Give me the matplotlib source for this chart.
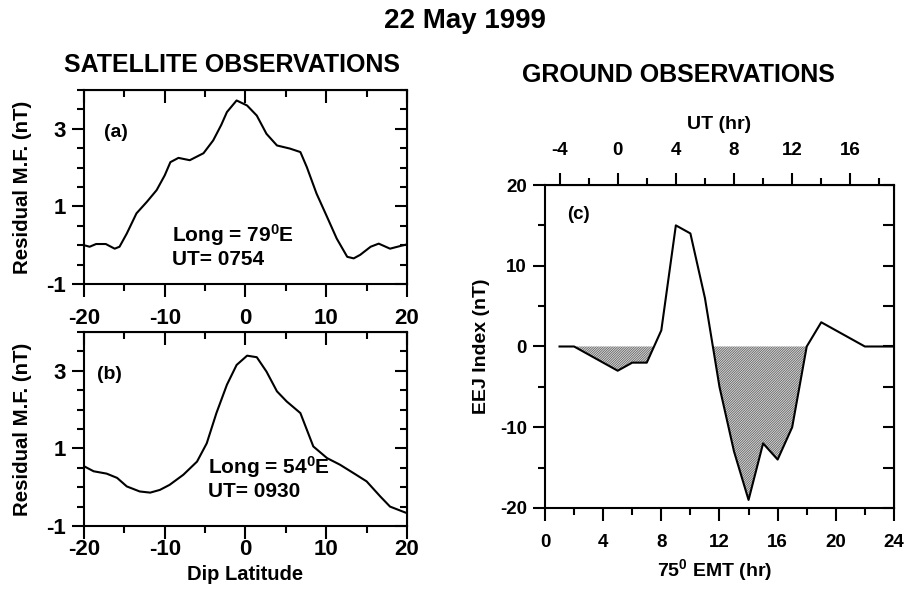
import numpy as np
import matplotlib
matplotlib.use('Agg')
import matplotlib.pyplot as plt
from matplotlib.ticker import MultipleLocator, FixedLocator

plt.rcParams['font.family'] = ['Liberation Sans', 'DejaVu Sans']
plt.rcParams['font.weight'] = 'bold'
plt.rcParams['axes.labelweight'] = 'bold'
plt.rcParams['axes.unicode_minus'] = False
plt.rcParams['mathtext.fontset'] = 'custom'
plt.rcParams['mathtext.rm'] = 'Liberation Sans:bold'
plt.rcParams['mathtext.bf'] = 'Liberation Sans:bold'
plt.rcParams['mathtext.default'] = 'bf'
plt.rcParams['hatch.linewidth'] = 0.5

# (a) satellite pass at 79E, residual field vs dip latitude
lat_a = [-20, -19.3, -18.5, -17.3, -16.2, -15.6, -14.7, -13.5, -12.2, -11.0, -10.0,
         -9.3, -8.3, -6.9, -5.2, -4.0, -3.0, -2.3, -1.1, 0.2, 1.4, 2.6, 3.9,
         5.5, 6.8, 7.6, 8.8, 10.1, 11.3, 12.6, 13.4, 14.2, 15.5, 16.5, 17.9, 19.2, 20]
res_a = [0.0, -0.04, 0.03, 0.03, -0.09, -0.04, 0.3, 0.82, 1.12, 1.42, 1.8,
         2.14, 2.25, 2.19, 2.37, 2.7, 3.1, 3.43, 3.73, 3.6, 3.34, 2.87, 2.57,
         2.49, 2.4, 2.01, 1.33, 0.73, 0.17, -0.3, -0.34, -0.25, -0.04, 0.04, -0.09, -0.02, 0.02]

# (b) satellite pass at 54E
lat_b = [-20, -18.8, -17.2, -15.9, -14.7, -13.1, -11.8, -10.6, -9.4, -7.7, -6.0,
         -4.8, -3.6, -2.3, -1.1, 0.2, 1.4, 2.6, 3.9, 5.1, 6.8, 8.4, 10.1,
         11.7, 13.4, 15.0, 16.7, 17.9, 20]
res_b = [0.54, 0.41, 0.35, 0.24, 0.02, -0.11, -0.14, -0.07, 0.06, 0.32, 0.66,
         1.13, 1.91, 2.64, 3.15, 3.39, 3.35, 2.98, 2.47, 2.21, 1.91, 1.05, 0.75,
         0.58, 0.36, 0.15, -0.24, -0.5, -0.67]

# (c) ground EEJ index vs local time (75E mean time)
emt = [1, 2, 5, 6, 7, 8, 9, 10, 11, 12, 13, 14, 15, 16, 17, 18, 19, 22, 24]
eej = [0, 0, -3, -2, -2, 2, 15, 14, 6, -5, -13, -19, -12, -14, -10, 0, 3, 0, 0]

ut_ticks = [-4, 0, 4, 8, 12, 16]

fig = plt.figure(figsize=(9.05, 5.92), dpi=100)

fig.text(0.514, 0.952, '22 May 1999', ha='center', va='baseline', fontsize=20)
fig.text(0.256, 0.878, 'SATELLITE OBSERVATIONS', ha='center', va='baseline', fontsize=18)
fig.text(0.750, 0.862, 'GROUND OBSERVATIONS', ha='center', va='baseline', fontsize=18)

LW = 1.5
MAJ, MIN = 9, 5


def style_sat(ax, xpad):
    ax.set_xlim(-20, 20)
    ax.set_ylim(-1, 4)
    ax.xaxis.set_major_locator(MultipleLocator(10))
    ax.xaxis.set_minor_locator(MultipleLocator(5))
    ax.yaxis.set_major_locator(FixedLocator([-1, 1, 3]))
    ax.yaxis.set_minor_locator(MultipleLocator(0.5))
    ax.tick_params(which='both', direction='out', width=LW, labelsize=16, pad=4)
    ax.tick_params(axis='x', pad=xpad)
    ax.tick_params(which='major', length=MAJ)
    ax.tick_params(which='minor', length=MIN)
    for s in ax.spines.values():
        s.set_linewidth(LW)
    top = ax.secondary_xaxis('top')
    top.xaxis.set_major_locator(MultipleLocator(10))
    top.xaxis.set_minor_locator(MultipleLocator(5))
    top.tick_params(which='both', direction='in', width=LW, labeltop=False)
    top.tick_params(which='major', length=MAJ)
    top.tick_params(which='minor', length=MIN)
    right = ax.secondary_yaxis('right')
    right.yaxis.set_major_locator(FixedLocator([-1, 1, 3]))
    right.yaxis.set_minor_locator(MultipleLocator(0.5))
    right.tick_params(which='both', direction='in', width=LW, labelright=False)
    right.tick_params(which='major', length=MAJ)
    right.tick_params(which='minor', length=MIN)
    ax.set_ylabel('Residual M.F. (nT)', fontsize=14.7)
    ax.yaxis.set_label_coords(-0.16, 0.5)


ax_a = fig.add_axes([0.0928, 0.5203, 0.3569, 0.3277])
ax_a.plot(lat_a, res_a, color='black', lw=LW)
style_sat(ax_a, xpad=8)
ax_a.text(-17.5, 2.9, '(a)', fontsize=14, va='center')
ax_a.text(-9.1, 0.26, r'Long = 79$^{0}$E', fontsize=15, va='center')
ax_a.text(-9.1, -0.38, 'UT= 0754', fontsize=15, va='center')

ax_b = fig.add_axes([0.0928, 0.1115, 0.3569, 0.3277])
ax_b.plot(lat_b, res_b, color='black', lw=LW)
style_sat(ax_b, xpad=0.5)
ax_b.text(-18.4, 2.9, '(b)', fontsize=14, va='center')
ax_b.text(-4.6, 0.53, r'Long = 54$^{0}$E', fontsize=15, va='center')
ax_b.text(-4.6, -0.11, 'UT= 0930', fontsize=15, va='center')
ax_b.set_xlabel('Dip Latitude', fontsize=14.5)
ax_b.xaxis.set_label_coords(0.5, -0.2)
ax_b.xaxis.label.set_va('top')

# (c) EEJ index with hatched counter-electrojet intervals
ax_c = fig.add_axes([0.6022, 0.1419, 0.3856, 0.5456])
emt_arr = np.array(emt, dtype=float)
eej_arr = np.array(eej, dtype=float)
ax_c.fill_between(emt_arr, eej_arr, 0, where=eej_arr < 0, interpolate=True,
                  facecolor='#d8d8d8', edgecolor='#555555', hatch='/' * 14, linewidth=0)
ax_c.plot(emt, eej, color='black', lw=LW)
ax_c.set_xlim(0, 24)
ax_c.set_ylim(-20, 20)
ax_c.xaxis.set_major_locator(MultipleLocator(4))
ax_c.xaxis.set_minor_locator(MultipleLocator(2))
ax_c.yaxis.set_major_locator(MultipleLocator(10))
ax_c.yaxis.set_minor_locator(MultipleLocator(5))
ax_c.tick_params(which='both', direction='out', width=LW, labelsize=13.5, pad=4)
ax_c.tick_params(axis='x', pad=10)
ax_c.tick_params(which='major', length=MAJ)
ax_c.tick_params(which='minor', length=MIN)
for s in ax_c.spines.values():
    s.set_linewidth(LW)
ax_c.text(1.5, 16.3, '(c)', fontsize=13.5, va='center')
ax_c.set_xlabel(r'75$^{0}$ EMT (hr)', fontsize=14)
ax_c.xaxis.set_label_coords(0.487, -0.152)
ax_c.xaxis.label.set_va('top')
ax_c.set_ylabel('EEJ Index (nT)', fontsize=14)
ax_c.yaxis.set_label_coords(-0.158, 0.5)

ut = ax_c.secondary_xaxis('top', functions=(lambda x: x - 5, lambda x: x + 5))
ut.xaxis.set_major_locator(FixedLocator(ut_ticks))
ut.xaxis.set_minor_locator(FixedLocator([-2, 2, 6, 10, 14, 18]))
ut.tick_params(which='both', direction='out', width=LW, labelsize=13.5, pad=10)
ut.tick_params(which='major', length=MAJ)
ut.tick_params(which='minor', length=MIN)
ut.set_xlabel('UT (hr)', fontsize=14, labelpad=9)

rc = ax_c.secondary_yaxis('right')
rc.yaxis.set_major_locator(MultipleLocator(5))
rc.tick_params(which='both', direction='in', width=LW, length=8, labelright=False)

fig.savefig('out.png', dpi=100)
